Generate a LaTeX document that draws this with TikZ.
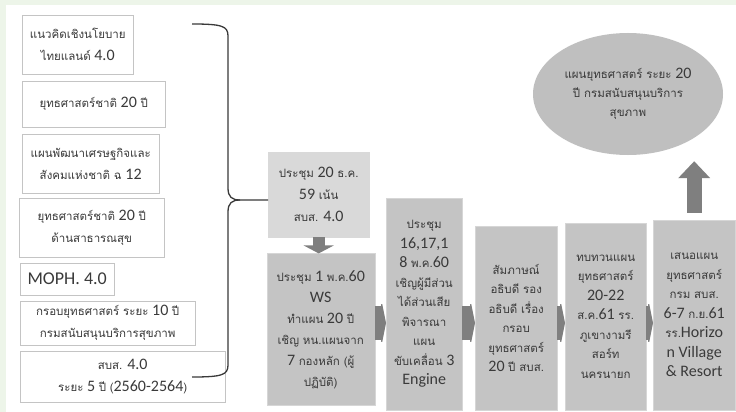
\documentclass[tikz,border=0pt]{standalone}
\usepackage{fontspec}
\setmainfont{Carlito}
\newfontfamily\thaifont[Script=Thai,Scale=0.72]{Loma}
\newcommand\thai[1]{{\thaifont #1}}
\usepackage{tikz}
\usetikzlibrary{arrows.meta,positioning,shapes.geometric}
\definecolor{Frame}{HTML}{C4C4C4}
\definecolor{Ink}{HTML}{3A3A3A}
\definecolor{StepPale}{HTML}{D9D9D9}
\definecolor{StepGray}{HTML}{C4C4C4}
\definecolor{ArrowGray}{HTML}{7F7F7F}
\definecolor{GoalGray}{HTML}{BFBFBF}
\definecolor{BgGreen}{HTML}{EDF5E9}

\begin{document}
\begin{tikzpicture}[x=1pt,y=-1pt,
  src/.style={draw=Frame,fill=white,anchor=north west,inner sep=0pt,align=center,text=Ink,font=\fontsize{16}{22}\selectfont},
  stepbox/.style={fill=StepGray,draw=StepGray!70!white,anchor=south west,inner sep=0pt,align=center,text=Ink,font=\fontsize{16}{19.5}\selectfont},
  brace/.style={draw=Ink,line width=1.3pt},
  sidearrow/.style={draw=ArrowGray,line width=34pt,-{Triangle[width=50pt,length=5pt]}},
  downarrow/.style={draw=ArrowGray,line width=12pt,-{Triangle[width=30pt,length=8pt]}},
  uparrow/.style={draw=ArrowGray,line width=15pt,-{Triangle[width=31pt,length=17pt]}}
]
  % page and faint slide background
  \fill[white] (0,0) rectangle (736,412);
  \fill[BgGreen] (0,0) rectangle (736,5);
  \fill[BgGreen] (0,0) rectangle (6,412);

  % source documents
  \node[src,minimum width=111pt,minimum height=59pt] (thai40) at (22,15) {\thai{แนวคิดเชิงนโยบาย}\\\thai{ไทยแลนด์} 4.0};
  \node[src,minimum width=143pt,minimum height=46pt] (nat20) at (22,81) {\thai{ยุทธศาสตร์ชาติ} 20 \thai{ปี}};
  \node[src,minimum width=137pt,minimum height=59pt] (plan12) at (22,134) {\thai{แผนพัฒนาเศรษฐกิจและ}\\\thai{สังคมแห่งชาติ ฉ} 12};
  \node[src,minimum width=145pt,minimum height=59pt] (health20) at (19,198) {\thai{ยุทธศาสตร์ชาติ} 20 \thai{ปี}\\\thai{ด้านสาธารณสุข}};
  \node[src,minimum width=94pt,minimum height=32pt,font=\fontsize{18}{22}\selectfont] (moph) at (20,263) {MOPH. 4.0};
  \node[src,minimum width=175pt,minimum height=44pt] (frame10) at (20,301) {\thai{กรอบยุทธศาสตร์ ระยะ} 10 \thai{ปี}\\\thai{กรมสนับสนุนบริการสุขภาพ}};
  \node[src,minimum width=205pt,minimum height=51pt] (hss40) at (20,351) {\thai{สบส.} 4.0\\\thai{ระยะ} 5 \thai{ปี} \thai{(}2560-2564\thai{)}};

  % steps
  \node[stepbox,fill=StepPale,draw=StepPale,anchor=north west,minimum width=101pt,minimum height=85pt,font=\fontsize{16}{22}\selectfont] (meet1) at (268,152) {\thai{ประชุม} 20 \thai{ธ.ค.}\\59 \thai{เน้น}\\\thai{สบส.} 4.0};
  \node[stepbox,anchor=north,minimum width=108pt,minimum height=152pt,font=\fontsize{16}{21}\selectfont,below=16pt of meet1,xshift=2pt] (ws) {\thai{ประชุม} 1 \thai{พ.ค.}60\\WS\\\thai{ทำแผน} 20 \thai{ปี}\\\thai{เชิญ หน.แผนจาก}\\7 \thai{กองหลัก (ผู้}\\\thai{ปฏิบัติ)}};
  \node[stepbox,minimum width=76pt,minimum height=212pt] (stake) at (386,410) {\thai{ประชุม}\\16,17,1\\8 \thai{พ.ค.}60\\\thai{เชิญผู้มีส่วน}\\\thai{ได้ส่วนเสีย}\\\thai{พิจารณา}\\\thai{แผน}\\\thai{ขับเคลื่อน} 3\\Engine};
  \node[stepbox,minimum width=82pt,minimum height=184pt] (interview) at (475,410) {\thai{สัมภาษณ์}\\\thai{อธิบดี รอง}\\\thai{อธิบดี เรื่อง}\\\thai{กรอบ}\\\thai{ยุทธศาสตร์}\\20 \thai{ปี สบส.}};
  \node[stepbox,minimum width=81pt,minimum height=187pt] (review) at (565,410) {\thai{ทบทวนแผน}\\\thai{ยุทธศาสตร์}\\20-22\\\thai{ส.ค.}61 \thai{รร.}\\\thai{ภูเขางามรี}\\\thai{สอร์ท}\\\thai{นครนายก}};
  \node[stepbox,minimum width=82pt,minimum height=190pt] (present) at (653,410) {\thai{เสนอแผน}\\\thai{ยุทธศาสตร์}\\\thai{กรม สบส.}\\6-7 \thai{ก.ย.}61\\\thai{รร.}Horizo\\n Village\\\& Resort};

  % outcome
  \node[ellipse,fill=GoalGray,minimum width=190pt,minimum height=122pt,inner sep=0pt,align=center,text=Ink,font=\fontsize{16}{19}\selectfont] (goal) at (628,94) {\thai{แผนยุทธศาสตร์ ระยะ} 20\\\thai{ปี กรมสนับสนุนบริการ}\\\thai{สุขภาพ}};

  % brace gathering the sources
  \coordinate (btip) at (240,200);
  \draw[brace] (192,24) .. controls (222,24) and (228,26) .. (228,36) -- (228,188) .. controls (228,197) and (232,200) .. (btip) -- (meet1.west |- btip);
  \draw[brace] (192,377) .. controls (222,377) and (228,375) .. (228,365) -- (228,212) .. controls (228,203) and (232,200) .. (btip);

  % flow arrows
  \coordinate (row) at (0,323);
  \draw[downarrow] (meet1.south) -- (ws.north -| meet1.south);
  \draw[sidearrow] (ws.east |- row) -- (stake.west |- row);
  \draw[sidearrow] (stake.east |- row) -- (interview.west |- row);
  \draw[sidearrow] (interview.east |- row) -- (review.west |- row);
  \draw[sidearrow] (review.east |- row) -- (present.west |- row);
  \coordinate (goalbase) at (goal.south -| present.north);
  \draw[uparrow] ([yshift=7pt]present.north) -- ([yshift=-6pt]goalbase);
\end{tikzpicture}
\end{document}
